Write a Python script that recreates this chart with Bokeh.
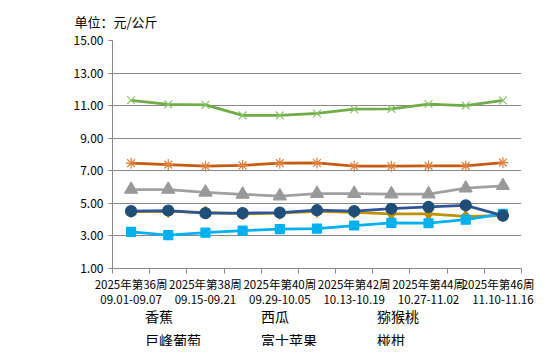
from bokeh.plotting import figure
from bokeh.layouts import column
from bokeh.models import (Range1d, LinearAxis, FixedTicker,
                          NumeralTickFormatter, Legend, LegendItem)
from bokeh.embed import file_html
from bokeh.resources import INLINE

weeks = ["2025年第36周", "2025年第37周", "2025年第38周", "2025年第39周", "2025年第40周",
         "2025年第41周", "2025年第42周", "2025年第43周", "2025年第44周", "2025年第45周",
         "2025年第46周"]
dates = ["09.01-09.07", "09.08-09.14", "09.15-09.21", "09.22-09.28", "09.29-10.05",
         "10.06-10.12", "10.13-10.19", "10.20-10.26", "10.27-11.02", "11.03-11.09",
         "11.10-11.16"]

banana = [4.50, 4.50, 4.45, 4.35, 4.40, 4.50, 4.45, 4.35, 4.35, 4.20, 4.25]
watermelon = [3.25, 3.05, 3.20, 3.32, 3.42, 3.45, 3.64, 3.80, 3.78, 4.00, 4.35]
kiwi = [5.85, 5.85, 5.68, 5.55, 5.45, 5.60, 5.60, 5.57, 5.57, 5.93, 6.08]
grape = [11.33, 11.08, 11.05, 10.40, 10.40, 10.52, 10.78, 10.80, 11.10, 11.00, 11.32]
apple = [7.47, 7.38, 7.28, 7.33, 7.47, 7.48, 7.28, 7.28, 7.30, 7.30, 7.50]
citrus = [4.52, 4.56, 4.40, 4.40, 4.43, 4.58, 4.52, 4.67, 4.78, 4.88, 4.25]

y_ticks = [1, 3, 5, 7, 9, 11, 13, 15]

FONT = "Noto Sans CJK SC"
GRID = "#888888"
n = len(weeks)
xs = [i + 0.5 for i in range(n)]  # category centres

p = figure(width=534, height=306, output_backend="svg", toolbar_location=None,
           x_range=Range1d(0, n), y_range=Range1d(1, 15),
           x_axis_type=None, min_border_left=48, min_border_right=13,
           min_border_top=37, min_border_bottom=38)
p.outline_line_color = None
p.background_fill_color = "white"
p.border_fill_color = "white"

# title
p.title.text = "单位：元/公斤"
p.title.text_font = FONT
p.title.text_font_size = "13px"
p.title.text_font_style = "normal"
p.title.text_color = "#000000"
p.title.align = "left"
p.title.offset = -38
p.title.standoff = 19

# y axis
p.yaxis.ticker = FixedTicker(ticks=y_ticks)
p.yaxis.formatter = NumeralTickFormatter(format="0.00")
p.yaxis.axis_line_color = GRID
p.yaxis.major_tick_line_color = GRID
p.yaxis.major_tick_out = 4
p.yaxis.major_tick_in = 0
p.yaxis.minor_tick_line_color = None
p.yaxis.major_label_text_font = FONT
p.yaxis.major_label_text_font_size = "12px"
p.yaxis.major_label_text_color = "#000000"
p.yaxis.major_label_standoff = 5
p.ygrid.ticker = FixedTicker(ticks=y_ticks)
p.ygrid.grid_line_color = GRID
p.ygrid.grid_line_width = 1
p.xgrid.grid_line_color = None

# x axes: week labels (with boundary ticks as minor ticks) and date labels
label_pos = [xs[i] for i in range(0, n, 2)]
week_over = {xs[i]: weeks[i] for i in range(0, n, 2)}
date_over = {xs[i]: dates[i] for i in range(0, n, 2)}

ax_week = LinearAxis(ticker=FixedTicker(ticks=label_pos, minor_ticks=list(range(n + 1))),
                     axis_line_color=GRID, major_tick_line_color=None,
                     minor_tick_line_color=GRID, minor_tick_out=5, minor_tick_in=0,
                     major_tick_out=5, major_tick_in=0,
                     major_label_overrides=week_over,
                     major_label_text_font=FONT, major_label_text_font_size="11.5px",
                     major_label_text_line_height=1.0,
                     major_label_text_color="#000000", major_label_standoff=2)
p.add_layout(ax_week, "below")

ax_date = LinearAxis(ticker=FixedTicker(ticks=label_pos), axis_line_color=None,
                     major_tick_line_color=None, minor_tick_line_color=None,
                     major_tick_out=0, major_tick_in=0,
                     major_label_overrides=date_over,
                     major_label_text_font=FONT, major_label_text_font_size="11.5px",
                     major_label_text_line_height=1.0,
                     major_label_text_color="#000000", major_label_standoff=0)
p.add_layout(ax_date, "below")

series = [
    ("香蕉", banana, "#BF9000", "#BF9000", "diamond", 12),
    ("西瓜", watermelon, "#00B0F0", "#00B0F0", "square", 9),
    ("猕猴桃", kiwi, "#A0A0A0", "#999999", "triangle", 13),
    ("巨峰葡萄", grape, "#70AD47", "#8CC46A", "x", 11),
    ("富士苹果", apple, "#C55A11", "#E0803C", "asterisk", 11),
    ("椪柑", citrus, "#2F5597", "#1F4E79", "circle", 11),
]

# legend strip below the chart (its own small figure, same glyph styles)
pl = figure(width=534, height=40, output_backend="svg", toolbar_location=None,
            x_range=Range1d(0, 1), y_range=Range1d(0, 1),
            x_axis_type=None, y_axis_type=None,
            min_border_left=112, min_border_right=0, min_border_top=0, min_border_bottom=0)
pl.outline_line_color = None
pl.xgrid.grid_line_color = None
pl.ygrid.grid_line_color = None
pl.background_fill_color = "white"
pl.border_fill_color = "white"

items = []
for name, vals, lc, mc, marker, size in series:
    p.line(xs, vals, line_color=lc, line_width=2.75)
    p.scatter(xs, vals, marker=marker, size=size, fill_color=mc, line_color=mc,
              line_width=1.2)
    l1 = pl.line([], [], line_color=lc, line_width=2.75)
    l2 = pl.scatter([], [], marker=marker, size=size, fill_color=mc, line_color=mc,
                    line_width=1.2)
    items.append(LegendItem(label=name, renderers=[l1, l2]))

legend = Legend(items=items, ncols=3, orientation="horizontal", location="top_left",
                label_text_font=FONT, label_text_font_size="14px", label_text_color="#000000",
                label_text_line_height=1.0,
                glyph_width=28, glyph_height=16, label_standoff=5, label_width=79,
                label_height=16, spacing=4, padding=0, margin=0,
                background_fill_alpha=0, border_line_color=None)
pl.add_layout(legend, "center")

layout = column(p, pl, spacing=0)
open("out.html", "w").write(file_html(layout, INLINE))
